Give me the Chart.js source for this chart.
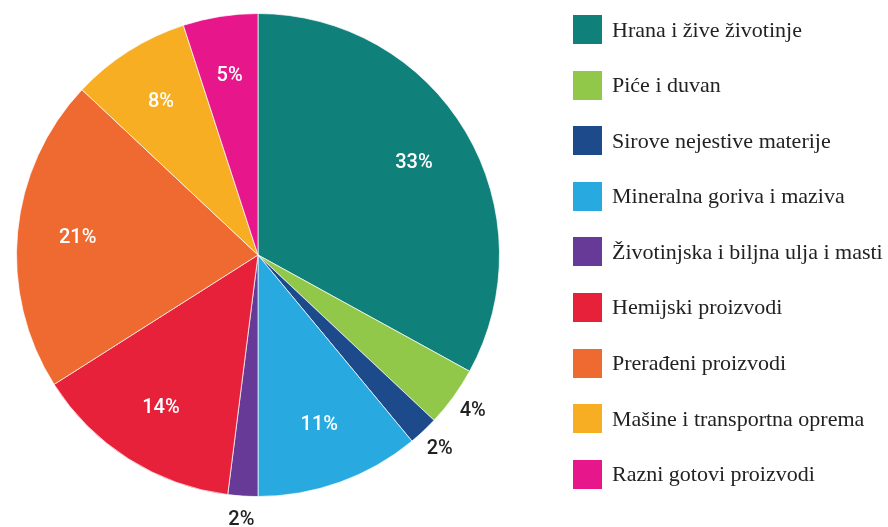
<!DOCTYPE html>
<html>
<head>
<meta charset="utf-8">
<script src="https://cdn.jsdelivr.net/npm/chart.js@4"></script>
<style>
  html, body { margin: 0; padding: 0; background: #fff; }
  #wrap { position: relative; width: 888px; height: 527px; }
  #legend { position: absolute; left: 573px; top: 15px; margin: 0; padding: 0; list-style: none; }
  #legend li { display: flex; align-items: center; height: 29px; margin-bottom: 26.6px; }
  #legend .box { width: 29px; height: 29px; flex: none; }
  #legend .txt { margin-left: 10px; font-family: "Liberation Serif", "Times New Roman", serif; font-size: 22px; color: #222; white-space: nowrap; }
</style>
</head>
<body>
<div id="wrap">
  <canvas id="chart" width="888" height="527"></canvas>
  <ul id="legend"></ul>
</div>
<script>
'use strict';

// ── Data ──────────────────────────────────────────────────────────────────────

const labels = [
  'Hrana i žive životinje',
  'Piće i duvan',
  'Sirove nejestive materije',
  'Mineralna goriva i maziva',
  'Životinjska i biljna ulja i masti',
  'Hemijski proizvodi',
  'Prerađeni proizvodi',
  'Mašine i transportna oprema',
  'Razni gotovi proizvodi',
];
const shares = [33, 4, 2, 11, 2, 14, 21, 8, 5];
const colors = [
  '#10807a', '#92c84a', '#1c4a8a', '#28aae1', '#663a96',
  '#e8213a', '#ef6a30', '#f8ae22', '#e7168b',
];

// small slices get their label outside the pie
const OUTSIDE_BELOW = 5;

const $ = id => document.getElementById(id);

// ── Percentage labels ─────────────────────────────────────────────────────────

const pctLabels = {
  id: 'pctLabels',
  afterDatasetsDraw(chart) {
    const ctx  = chart.ctx;
    const meta = chart.getDatasetMeta(0);
    ctx.save();
    ctx.font = '500 20px Roboto, "DejaVu Sans", sans-serif';
    ctx.textAlign = 'center';
    ctx.textBaseline = 'middle';
    meta.data.forEach((arc, i) => {
      const v   = shares[i];
      const mid = (arc.startAngle + arc.endAngle) / 2;
      const out = v < OUTSIDE_BELOW;
      const r   = out ? arc.outerRadius + 24 : arc.outerRadius * 0.75;
      ctx.fillStyle = out ? '#222' : '#fff';
      ctx.fillText(v + '%', arc.x + Math.cos(mid) * r, arc.y + Math.sin(mid) * r);
    });
    ctx.restore();
  },
};

// ── Chart ─────────────────────────────────────────────────────────────────────

new Chart($('chart'), {
  type: 'pie',
  data: {
    labels,
    datasets: [{
      data: shares,
      backgroundColor: colors,
      borderColor: 'rgba(255,255,255,.7)',
      borderWidth: 1,
    }],
  },
  options: {
    responsive: false,
    animation: false,
    layout: { padding: { left: 16, right: 388, top: 13, bottom: 30 } },
    plugins: {
      legend: { display: false },
      tooltip: { enabled: false },
    },
  },
  plugins: [pctLabels],
});

// ── Legend ────────────────────────────────────────────────────────────────────

$('legend').innerHTML = labels.map((l, i) => `
  <li><span class="box" style="background:${colors[i]}"></span><span class="txt">${l}</span></li>`).join('');
</script>
</body>
</html>
